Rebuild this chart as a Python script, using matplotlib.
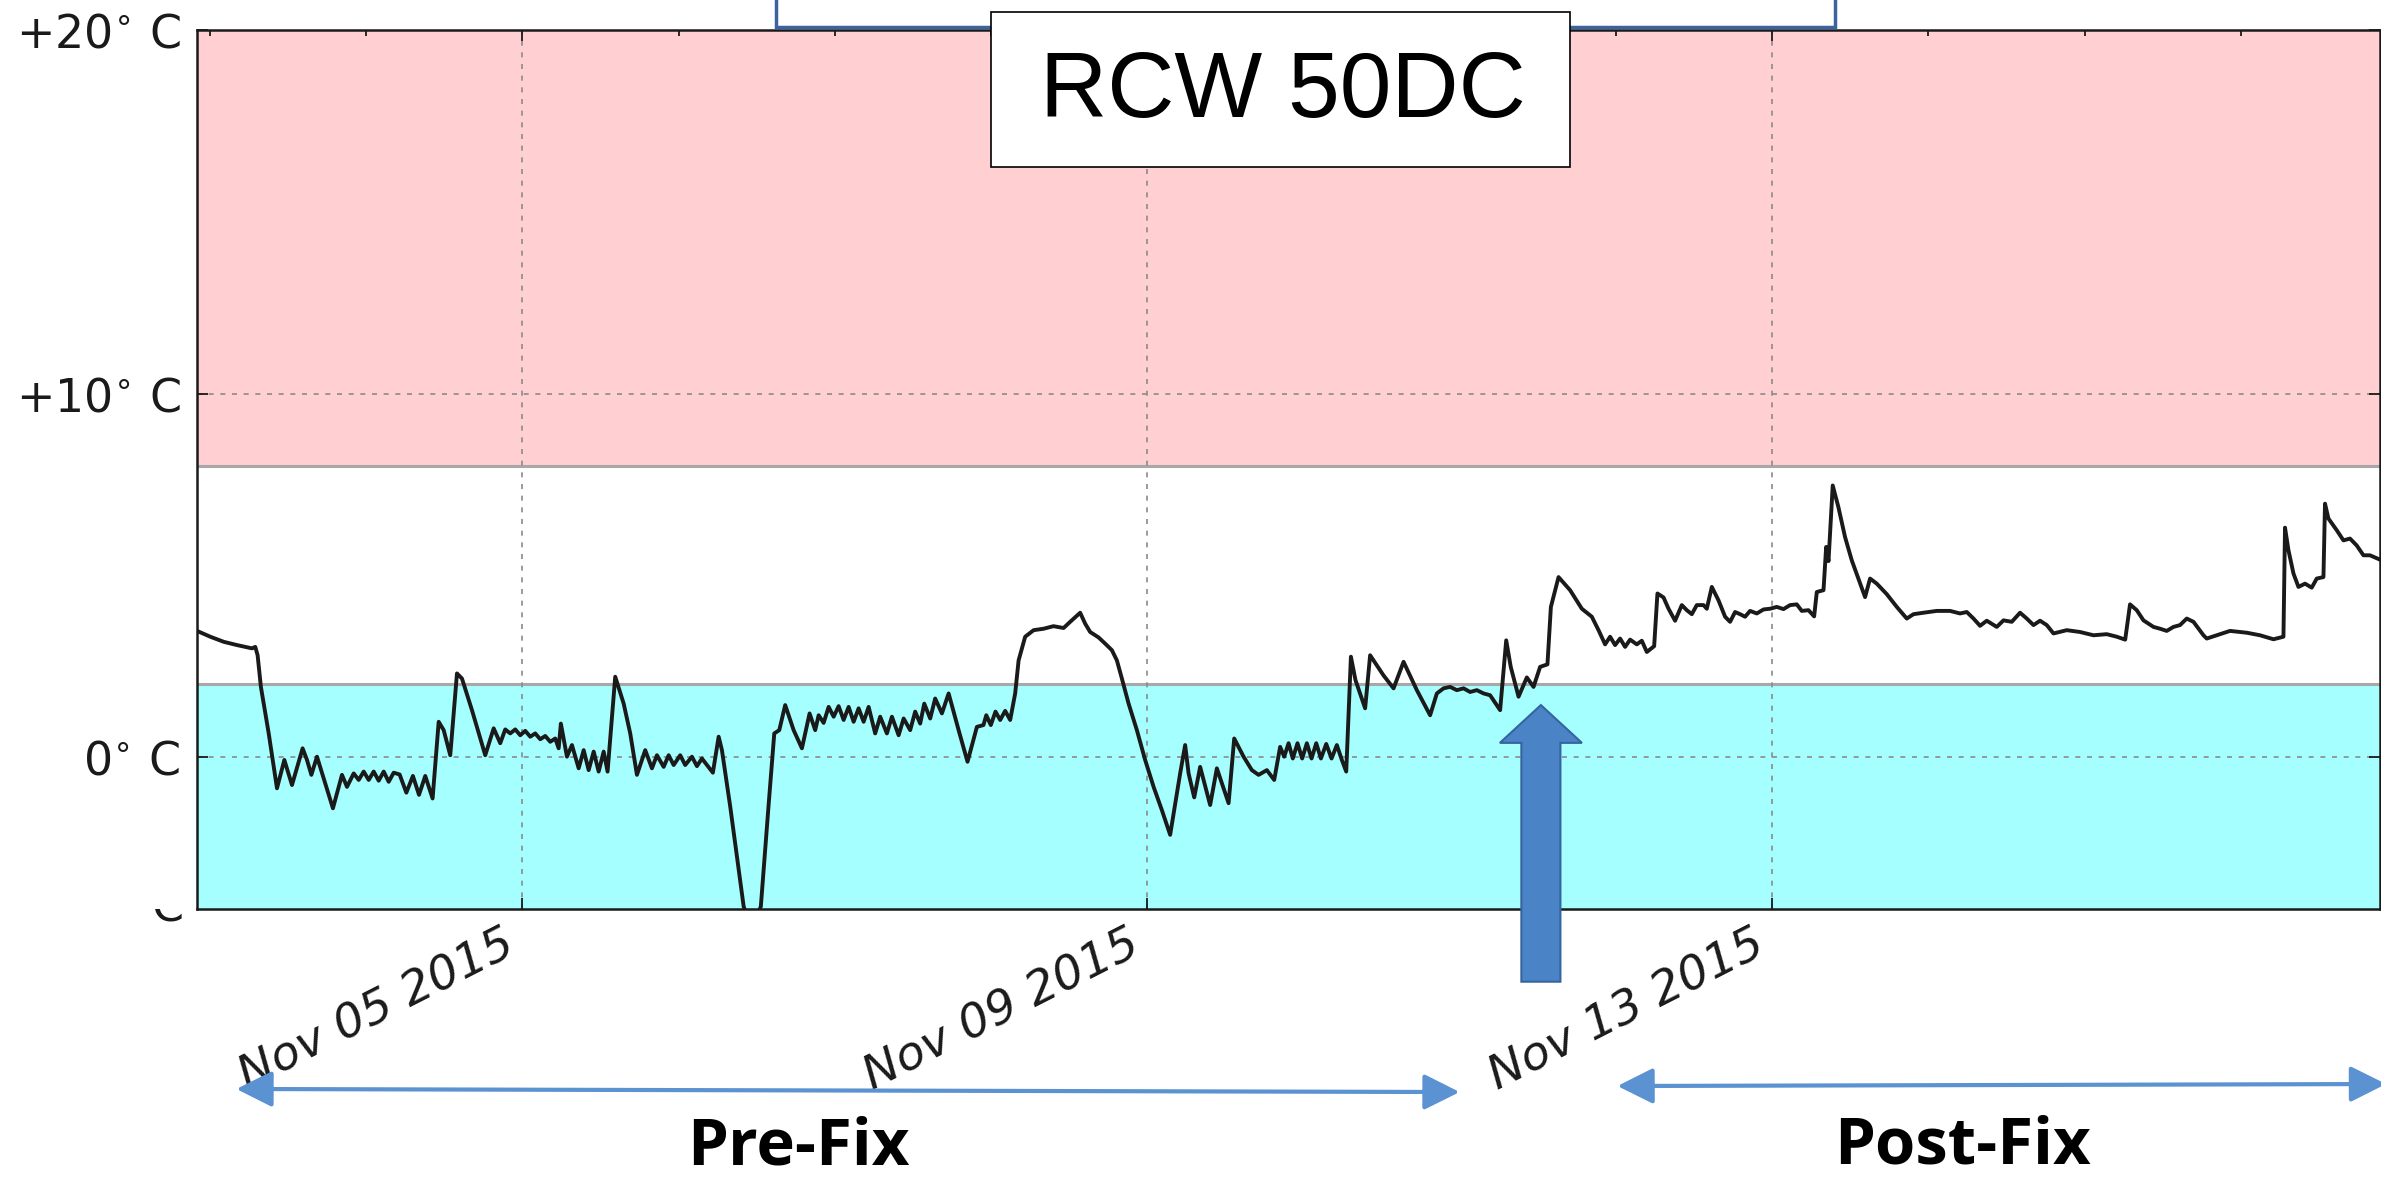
import matplotlib
matplotlib.use("Agg")
import matplotlib.pyplot as plt
import matplotlib.dates as mdates
from matplotlib.patches import Rectangle, FancyArrow
from matplotlib.transforms import Bbox, TransformedBbox
from datetime import datetime, timedelta

# temperature log, time as decimal day of November 2015
day_of_nov = [
    2.918, 3.003, 3.089, 3.174, 3.270, 3.291, 3.306, 3.327, 3.377, 3.430,
    3.477, 3.526, 3.594, 3.622, 3.650, 3.686, 3.788, 3.846, 3.878, 3.921,
    3.953, 3.985, 4.017, 4.049, 4.081, 4.113, 4.145, 4.177, 4.215, 4.258,
    4.300, 4.339, 4.379, 4.426, 4.465, 4.497, 4.539, 4.582, 4.614, 4.678,
    4.763, 4.817, 4.859, 4.891, 4.923, 4.955, 4.987, 5.019, 5.051, 5.083,
    5.115, 5.147, 5.179, 5.211, 5.233, 5.247, 5.286, 5.318, 5.361, 5.393,
    5.425, 5.457, 5.489, 5.521, 5.546, 5.595, 5.649, 5.691,
    5.734, 5.787, 5.830, 5.862, 5.905, 5.937, 5.969, 6.011, 6.043, 6.086,
    6.118, 6.150, 6.182, 6.220, 6.257, 6.278, 6.331, 6.417, 6.470, 6.527,
    6.576, 6.613, 6.645, 6.683, 6.737, 6.790, 6.839, 6.875, 6.897, 6.929,
    6.961, 6.993, 7.025, 7.057, 7.089, 7.121, 7.153, 7.185, 7.217, 7.259,
    7.291, 7.334, 7.366, 7.409, 7.441, 7.483, 7.515, 7.547, 7.573, 7.611,
    7.643, 7.686, 7.729, 7.793, 7.850, 7.910, 7.952, 7.970, 7.999, 8.029,
    8.059, 8.091, 8.123, 8.155, 8.177, 8.219, 8.273, 8.337, 8.400, 8.465,
    8.507,
    8.571, 8.603, 8.635, 8.689, 8.731, 8.774, 8.806, 8.838, 8.881, 8.934,
    8.987, 9.041, 9.094, 9.147, 9.211, 9.243, 9.265, 9.301, 9.339, 9.403,
    9.446, 9.521, 9.557, 9.617, 9.670, 9.713, 9.766, 9.813, 9.851, 9.877,
    9.905, 9.932, 9.962, 9.992, 10.022, 10.052, 10.082, 10.112, 10.146, 10.180,
    10.214, 10.246, 10.274, 10.304, 10.333, 10.395, 10.427, 10.512, 10.577, 10.641,
    10.726, 10.811, 10.854, 10.897, 10.939, 10.982, 11.025, 11.067, 11.110, 11.153,
    11.195, 11.259, 11.298, 11.327,
    11.377, 11.430, 11.473, 11.515, 11.562, 11.584, 11.633, 11.707, 11.782, 11.846,
    11.889, 11.931, 11.963, 11.995, 12.027, 12.059, 12.091, 12.134, 12.166, 12.198,
    12.245, 12.266, 12.305, 12.337, 12.379, 12.422, 12.454, 12.486, 12.518, 12.561,
    12.582, 12.614, 12.657, 12.699, 12.731, 12.763, 12.795, 12.827, 12.859, 12.902,
    12.945, 12.987, 13.030, 13.073, 13.115, 13.158, 13.190, 13.233, 13.269, 13.286,
    13.329, 13.346, 13.361, 13.388, 13.424, 13.467, 13.510, 13.552, 13.595, 13.627,
    13.670, 13.734, 13.798, 13.862, 13.905, 13.969, 14.054, 14.139,
    14.203, 14.246, 14.289, 14.331, 14.374, 14.438, 14.481, 14.534, 14.587, 14.630,
    14.673, 14.715, 14.758, 14.801, 14.886, 14.971, 15.057, 15.142, 15.206, 15.260,
    15.291, 15.334, 15.377, 15.441, 15.483, 15.526, 15.569, 15.611, 15.654, 15.697,
    15.761, 15.782, 15.846, 15.931, 16.038, 16.123, 16.209, 16.273, 16.283, 16.305,
    16.337, 16.369, 16.411, 16.454, 16.486, 16.529, 16.539, 16.561, 16.614, 16.657,
    16.699, 16.742, 16.785, 16.827, 16.891, 16.934,
]
temp_c = [
    3.47, 3.31, 3.17, 3.08, 2.99, 3.03, 2.80, 1.93, 0.65, -0.86,
    -0.08, -0.77, 0.24, -0.08, -0.49, 0.01, -1.41, -0.49, -0.82, -0.45,
    -0.63, -0.40, -0.63, -0.40, -0.65, -0.40, -0.68, -0.43, -0.48, -0.98,
    -0.52, -1.04, -0.52, -1.14, 0.97, 0.74, 0.05, 2.30, 2.16, 1.29,
    0.05, 0.79, 0.38, 0.76, 0.65, 0.76, 0.60, 0.72, 0.56, 0.65,
    0.49, 0.58, 0.42, 0.51, 0.24, 0.92, 0.01, 0.33, -0.31, 0.19,
    -0.36, 0.15, -0.40, 0.15, -0.40, 2.21, 1.47, 0.65,
    -0.49, 0.19, -0.31, 0.05, -0.27, 0.05, -0.22, 0.05, -0.22, 0.01,
    -0.25, -0.04, -0.22, -0.43, 0.56, 0.19, -1.36, -4.11, -4.75, -4.11,
    -1.36, 0.65, 0.74, 1.43, 0.74, 0.24, 1.20, 0.74, 1.15, 0.94,
    1.38, 1.11, 1.40, 1.02, 1.38, 0.97, 1.34, 0.97, 1.38, 0.65,
    1.11, 0.65, 1.11, 0.60, 1.06, 0.74, 1.25, 0.92, 1.47, 1.06,
    1.61, 1.20, 1.75, 0.74, -0.13, 0.83, 0.88, 1.15, 0.88, 1.25,
    1.02, 1.27, 1.02, 1.75, 2.66, 3.31, 3.49, 3.53, 3.60, 3.55,
    3.72,
    3.97, 3.67, 3.44, 3.29, 3.12, 2.94, 2.66, 2.16, 1.47, 0.74,
    -0.08, -0.82, -1.46, -2.14, -0.45, 0.33, -0.45, -1.11, -0.27, -1.32,
    -0.31, -1.27, 0.51, 0.01, -0.36, -0.49, -0.36, -0.63, 0.28, 0.01,
    0.38, -0.04, 0.38, -0.04, 0.38, -0.04, 0.38, -0.04, 0.36, -0.04,
    0.33, -0.08, -0.40, 2.76, 2.12, 1.34, 2.80, 2.25, 1.89, 2.62,
    1.84, 1.15, 1.75, 1.89, 1.93, 1.84, 1.89, 1.79, 1.84, 1.75,
    1.70, 1.29, 3.21, 2.48,
    1.66, 2.19, 1.93, 2.48, 2.55, 4.13, 4.95, 4.59, 4.08, 3.86,
    3.49, 3.10, 3.31, 3.08, 3.26, 3.03, 3.23, 3.10, 3.20, 2.89,
    3.05, 4.50, 4.39, 4.08, 3.75, 4.18, 4.04, 3.93, 4.18, 4.18,
    4.08, 4.68, 4.31, 3.86, 3.72, 3.99, 3.93, 3.86, 4.02, 3.95,
    4.06, 4.08, 4.13, 4.07, 4.18, 4.20, 4.02, 4.04, 3.87, 4.54,
    4.59, 5.78, 5.39, 7.47, 6.88, 6.05, 5.41, 4.91, 4.40, 4.91,
    4.77, 4.48, 4.13, 3.81, 3.93, 3.97, 4.02, 4.02,
    3.95, 3.99, 3.81, 3.61, 3.75, 3.58, 3.76, 3.72, 3.97, 3.81,
    3.63, 3.75, 3.63, 3.40, 3.49, 3.44, 3.35, 3.38, 3.31, 3.23,
    4.20, 4.04, 3.76, 3.58, 3.53, 3.47, 3.58, 3.63, 3.81, 3.72,
    3.35, 3.26, 3.35, 3.47, 3.42, 3.35, 3.24, 3.31, 6.31, 5.69,
    5.05, 4.68, 4.77, 4.66, 4.91, 4.95, 6.97, 6.56, 6.24, 5.96,
    6.01, 5.82, 5.55, 5.55, 5.43, 5.37,
]
assert len(day_of_nov) == len(temp_c)

warm_limit = 8      # above this: red band
cold_limit = 2      # below this: cyan band
ytick_vals = [0, 10, 20]
ytick_text = ["0$^{\\circ}$ C", "+10$^{\\circ}$ C", "+20$^{\\circ}$ C"]
xtick_days = [5, 9, 13]
x_range = [2.918, 16.891]
y_range = [-4.18, 20]

fix_day = 11.52                 # blue arrow: when the fix went in
pre_fix_days = [3.17, 11.00]
post_fix_days = [12.01, 16.93]


def nov(d):
    return datetime(2015, 11, 1) + timedelta(days=d - 1)


W, H = 2381, 1182
fig = plt.figure(figsize=(W / 100, H / 100), dpi=100)
ax = fig.add_axes([197 / W, 1 - 909 / H, 2183 / W, 879 / H])

ax.axhspan(warm_limit, 40, color="#ffcfd2", lw=0, zorder=0)
ax.axhspan(-40, cold_limit, color="#a6ffff", lw=0, zorder=0)
ax.axhline(warm_limit, color="#a8a8a8", lw=2.2, zorder=1.2)
ax.axhline(cold_limit, color="#a8a8a8", lw=2.2, zorder=1.2)

ax.plot([nov(d) for d in day_of_nov], temp_c, color="#1a1a1a", lw=2.8,
        solid_joinstyle="round", zorder=3)

ax.set_xlim(nov(x_range[0]), nov(x_range[1]))
ax.set_ylim(*y_range)

ax.set_yticks(ytick_vals)
ax.set_yticklabels(ytick_text)
ax.set_xticks([nov(d) for d in xtick_days])
ax.xaxis.set_major_formatter(mdates.DateFormatter("%b %d %Y"))
ax.xaxis.set_minor_locator(mdates.DayLocator())

ax.grid(True, which="major", color="#8a8a8a", ls=(0, (3, 4)), lw=1.2)
ax.tick_params(which="both", direction="in", top=True, right=True, width=1.3,
               colors="#1a1a1a")
ax.tick_params(axis="y", labelsize=33, pad=12)
ax.tick_params(axis="x", labelsize=34, pad=9)
ax.tick_params(which="major", length=8)
ax.tick_params(which="minor", length=4, bottom=False)
for lbl in ax.get_xticklabels():
    lbl.set_rotation(27)
    lbl.set_ha("right")
    lbl.set_style("oblique")
for s in ax.spines.values():
    s.set_linewidth(1.8)
    s.set_color("#1a1a1a")

# big up arrow at the fix
xf = mdates.date2num(nov(fix_day))
ax.add_patch(FancyArrow(xf, -6.18, 0, 7.61, width=0.25, head_width=0.525,
                        head_length=1.04, length_includes_head=True,
                        fc="#4a84c6", ec="#35649f", lw=1.5, clip_on=False, zorder=6))

# pre / post fix spans under the axis
arrow_style = dict(arrowstyle="<|-|>,head_length=1.1,head_width=0.55", color="#5a92d2",
                   lw=3, mutation_scale=20, shrinkA=0, shrinkB=0)
ax.annotate("", xy=(mdates.date2num(nov(pre_fix_days[1])), 0.0761),
            xytext=(mdates.date2num(nov(pre_fix_days[0])), 0.0787),
            xycoords=("data", "figure fraction"), textcoords=("data", "figure fraction"),
            arrowprops=arrow_style, annotation_clip=False)
ax.annotate("", xy=(mdates.date2num(nov(post_fix_days[1])), 0.0829),
            xytext=(mdates.date2num(nov(post_fix_days[0])), 0.0812),
            xycoords=("data", "figure fraction"), textcoords=("data", "figure fraction"),
            arrowprops=arrow_style, annotation_clip=False)

fig.text(0.3352, 0.001, "Pre-Fix", fontsize=47, fontweight="bold",
         family="Open Sans", ha="center", va="bottom")
fig.text(0.8242, 0.002, "Post-Fix", fontsize=47, fontweight="bold",
         family="Open Sans", ha="center", va="bottom")

# boxes at the top
fig.add_artist(Rectangle((776 / W, 1 - 27 / H), 1059 / W, 0.1, transform=fig.transFigure,
                         fc="white", ec="#3b63a0", lw=2.5, zorder=4))
fig.add_artist(Rectangle((991 / W, 1 - 167 / H), 579 / W, 155 / H, transform=fig.transFigure,
                         fc="white", ec="black", lw=1.2, zorder=5))
fig.text(1283 / W, 1 - 117 / H, "RCW 50DC", fontsize=67, family="Liberation Sans",
         ha="center", va="baseline", zorder=6)

# cut-off tick label at the bottom left
t = fig.text(184 / W, 1 - 921 / H, "C", fontsize=33, color="#1a1a1a", ha="right", va="baseline")
t.set_clip_box(TransformedBbox(Bbox([[0, 0], [1, 1 - 909 / H]]), fig.transFigure))
t.set_clip_on(True)

fig.savefig("out.png", dpi=100)
